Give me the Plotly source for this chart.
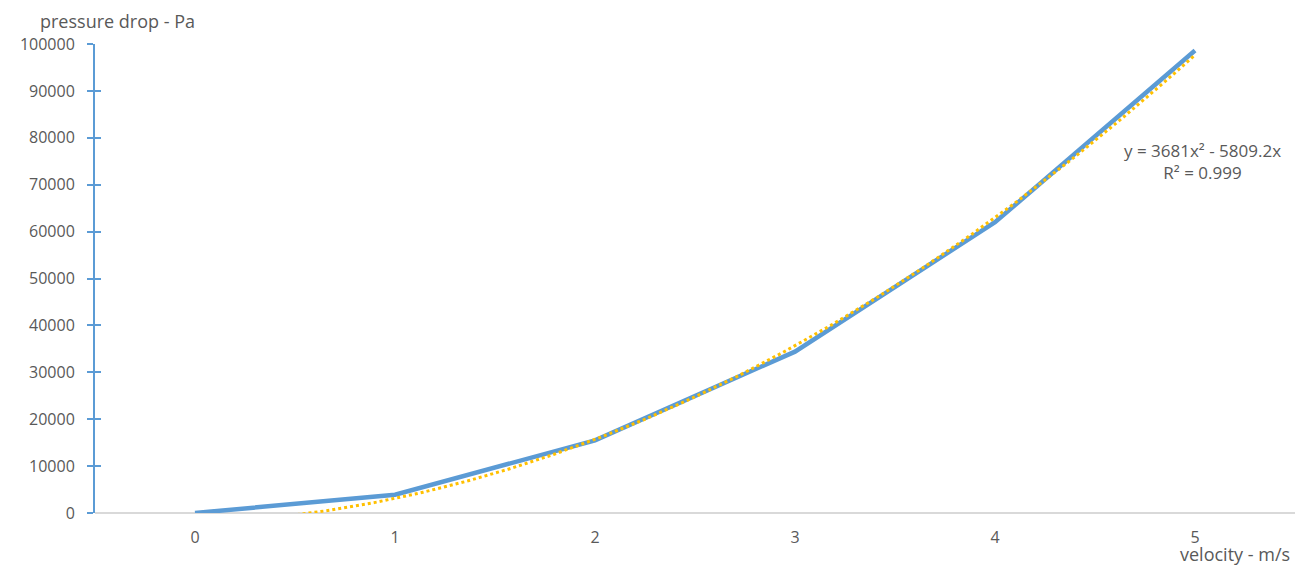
import numpy as np
import plotly.graph_objects as go

# Data
velocity = [0, 1, 2, 3, 4, 5]
pressure_drop = [0, 3900, 15500, 34400, 62000, 98600]
y_ticks = [0, 10000, 20000, 30000, 40000, 50000, 60000, 70000, 80000, 90000, 100000]
# Excel polynomial trendline (order 2, through origin) on category index 1..6
trend_a = 3681
trend_b = -5809.2
trend_label = "y = 3681x² - 5809.2x<br>R² = 0.999"

idx = np.linspace(1, 6, 400)
trend_x = idx - 1
trend_y = trend_a * idx**2 + trend_b * idx

font_family = "Open Sans, Liberation Sans, sans-serif"
txt_color = "#595959"

fig = go.Figure()
fig.add_trace(go.Scatter(x=velocity, y=pressure_drop, mode="lines",
                         line=dict(color="#5b9bd5", width=4.5), showlegend=False))
fig.add_trace(go.Scatter(x=trend_x, y=trend_y, mode="lines",
                         line=dict(color="#ffc000", width=3, dash="dot"), showlegend=False))
# invisible trace on overlay axis for inner ticks
fig.add_trace(go.Scatter(x=[0], y=[0], yaxis="y2", mode="markers",
                         marker=dict(opacity=0), showlegend=False, hoverinfo="skip"))

fig.update_layout(
    width=1315, height=575,
    margin=dict(l=95, r=20, t=44, b=62, autoexpand=False),
    paper_bgcolor="white", plot_bgcolor="white",
    font=dict(family=font_family, size=16, color=txt_color),
    xaxis=dict(range=[-0.5, 5.5], tickvals=velocity, ticktext=[str(v) for v in velocity],
               showgrid=False, zeroline=False, showline=False, ticks="",
               ticklabelstandoff=13, automargin=False,
               tickfont=dict(size=16, color=txt_color)),
    yaxis=dict(range=[0, 100000], tickvals=y_ticks, ticktext=[str(v) for v in y_ticks],
               showgrid=False, zeroline=True, zerolinecolor="#d9d9d9", zerolinewidth=2,
               showline=True, linecolor="#5b9bd5", linewidth=2, automargin=False,
               ticks="outside", ticklen=6, tickwidth=2, tickcolor="#5b9bd5",
               ticklabelstandoff=9,
               tickfont=dict(size=16, color=txt_color)),
    yaxis2=dict(range=[0, 100000], overlaying="y", side="left", tickvals=y_ticks,
                showticklabels=False, showgrid=False, zeroline=False, showline=False,
                ticks="inside", ticklen=6, tickwidth=2, tickcolor="#5b9bd5", anchor="x",
                automargin=False),
    annotations=[
        dict(text="pressure drop - Pa", xref="paper", yref="paper", x=-0.0475, y=1.0,
             xanchor="left", yanchor="bottom", yshift=9, showarrow=False,
             font=dict(size=18, color=txt_color)),
        dict(text="velocity - m/s", xref="paper", yref="paper", x=0.9975, y=0,
             xanchor="right", yanchor="top", yshift=-27, showarrow=False,
             font=dict(size=18, color=txt_color)),
        dict(text=trend_label, xref="paper", yref="y", x=0.9225, y=75000, align="center",
             xanchor="center", yanchor="middle", showarrow=False,
             font=dict(size=17, color=txt_color)),
    ],
)

fig.write_html("out.html", config={"displayModeBar": False},
               post_script="document.body.style.margin='0';document.body.style.overflow='hidden';")
